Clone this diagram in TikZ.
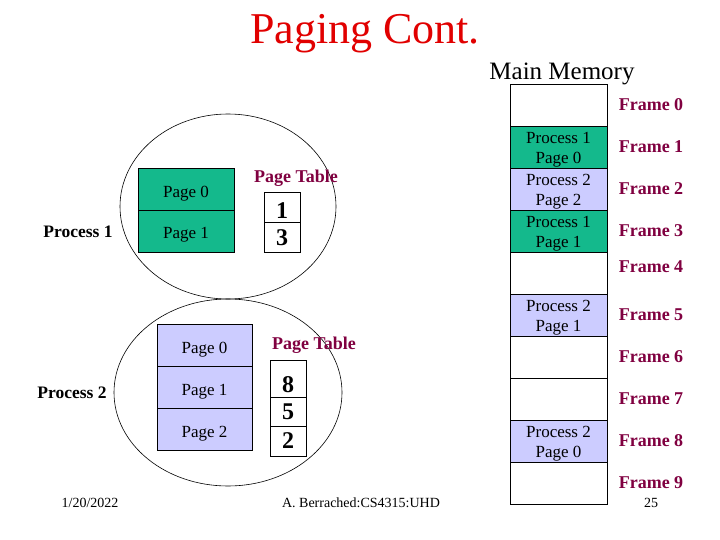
\documentclass[tikz,border=0pt]{standalone}
\usepackage{fontspec}
\setmainfont{Liberation Serif}
\usetikzlibrary{shapes.geometric}
\definecolor{pgreen}{RGB}{20,185,140}
\definecolor{plav}{RGB}{204,204,255}
\definecolor{maroon}{RGB}{128,0,64}
\definecolor{titlered}{RGB}{225,0,0}
\tikzset{
  proc/.style={draw, ellipse, line width=0.6pt, inner sep=0pt},
  pagebox/.style={draw, line width=0.8pt, minimum width=96pt, minimum height=42pt, inner sep=0pt, text height=16pt, text depth=0pt, font=\fontsize{17}{19}\selectfont},
  framebox/.style={draw, line width=0.8pt, minimum width=97pt, minimum height=42pt, inner sep=0pt},
  ftext/.style={align=center, inner sep=0pt, font=\fontsize{17}{20}\selectfont},
  cellbox/.style={draw, line width=0.8pt, minimum width=36pt, inner sep=0pt},
  num/.style={font=\fontsize{24}{26}\selectfont\bfseries, inner sep=0pt},
  flabel/.style={text=maroon, font=\fontsize{18}{20}\selectfont\bfseries, inner sep=0pt},
  ptlabel/.style={text=maroon, font=\fontsize{18}{20}\selectfont\bfseries, inner sep=0pt},
  plabel/.style={font=\fontsize{17.5}{20}\selectfont\bfseries, inner sep=0pt},
  foot/.style={font=\fontsize{14}{16}\selectfont, inner sep=0pt}
}
\begin{document}
\begin{tikzpicture}[x=1pt,y=-1pt]
\useasboundingbox (0,0) rectangle (720,540);
% title
\node[text=titlered, font=\fontsize{44}{48}\selectfont, inner sep=0pt] (title) at (365,34) {Paging Cont.};
\node[font=\fontsize{25}{28}\selectfont, inner sep=0pt] (mm) at (562,74) {Main Memory};
% process ellipses
\node[proc, minimum width=216pt, minimum height=185pt] (e1) at (228,206.5) {};
\node[proc, minimum width=228pt, minimum height=187pt] (e2) at (228,392.5) {};
% process 1
\node[plabel] (p1) at (78,232) {Process 1};
\node[pagebox, fill=pgreen] (p1a) at (186,189) {Page 0};
\node[pagebox, fill=pgreen] (p1b) at (186,231) {Page 1};
\node[ptlabel] (pt1) at (296,178) {Page Table};
\node[cellbox, minimum height=30pt] (t1a) at (282,207) {};
\node[cellbox, minimum height=30pt] (t1b) at (282,237) {};
\node[num] (n1) at (282,211) {1};
\node[num] (n3) at (282,238) {3};
% process 2
\node[plabel] (p2) at (72,393) {Process 2};
\node[pagebox, fill=plav, minimum width=95pt] (p2a) at (204.5,345) {Page 0};
\node[pagebox, fill=plav, minimum width=95pt] (p2b) at (204.5,387) {Page 1};
\node[pagebox, fill=plav, minimum width=95pt] (p2c) at (204.5,429) {Page 2};
\node[ptlabel] (pt2) at (314,345) {Page Table};
\node[cellbox, minimum height=37pt] (t2a) at (288,378.5) {};
\node[cellbox, minimum height=29pt] (t2b) at (288,411.5) {};
\node[cellbox, minimum height=30pt] (t2c) at (288,441) {};
\node[num] (n8) at (288,385) {8};
\node[num] (n5) at (288,412) {5};
\node[num] (n2) at (288,441) {2};
% main memory
\node[framebox] (f0) at (558.5,105) {};
\node[framebox, fill=pgreen] (f1) at (558.5,147) {};
\node[framebox, fill=plav] (f2) at (558.5,189) {};
\node[framebox, fill=pgreen] (f3) at (558.5,231) {};
\node[framebox] (f4) at (558.5,273) {};
\node[framebox, fill=plav] (f5) at (558.5,315) {};
\node[framebox] (f6) at (558.5,357) {};
\node[framebox] (f7) at (558.5,399) {};
\node[framebox, fill=plav] (f8) at (558.5,441) {};
\node[framebox] (f9) at (558.5,483) {};
\node[ftext] (f1t) at ([yshift=-3pt]f1.center) {Process 1\\Page 0};
\node[ftext] (f2t) at ([yshift=-3pt]f2.center) {Process 2\\Page 2};
\node[ftext] (f3t) at ([yshift=-3pt]f3.center) {Process 1\\Page 1};
\node[ftext] (f5t) at ([yshift=-3pt]f5.center) {Process 2\\Page 1};
\node[ftext] (f8t) at ([yshift=-3pt]f8.center) {Process 2\\Page 0};
% frame labels
\node[flabel] (l0) at (651,105) {Frame 0};
\node[flabel] (l1) at (651,147) {Frame 1};
\node[flabel] (l2) at (651,189) {Frame 2};
\node[flabel] (l3) at (651,231) {Frame 3};
\node[flabel] (l4) at (651,267) {Frame 4};
\node[flabel] (l5) at (651,315) {Frame 5};
\node[flabel] (l6) at (651,357) {Frame 6};
\node[flabel] (l7) at (651,399) {Frame 7};
\node[flabel] (l8) at (651,441) {Frame 8};
\node[flabel] (l9) at (651,483) {Frame 9};
% footer
\node[foot] (date) at (90,503) {1/20/2022};
\node[foot] (auth) at (361,503) {A. Berrached:CS4315:UHD};
\node[foot] (pg) at (651,503) {25};
\end{tikzpicture}
\end{document}
